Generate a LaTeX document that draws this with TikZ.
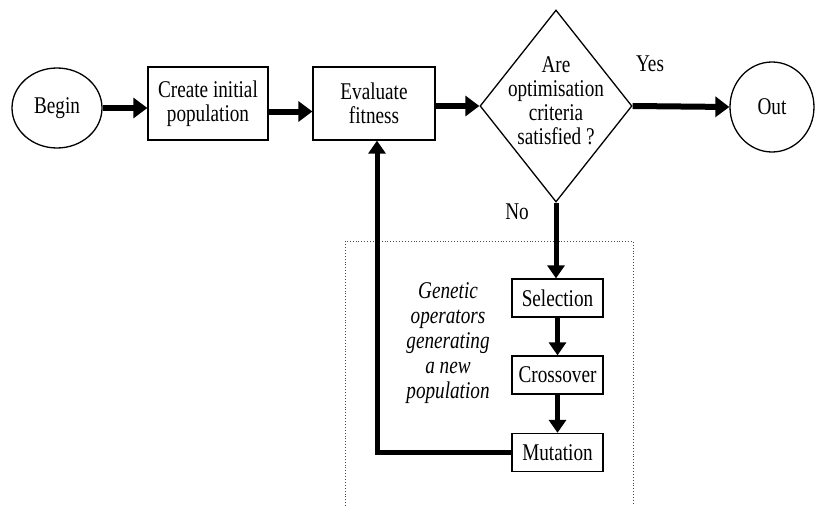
\documentclass[tikz,border=0pt]{standalone}
\usepackage{fontspec}
\setmainfont[FakeStretch=0.8]{Liberation Serif}
\usetikzlibrary{shapes.geometric,arrows.meta}
\begin{document}
\begin{tikzpicture}[x=1pt,y=-1pt,
  every node/.style={font=\fontsize{24}{24}\selectfont, align=center, inner sep=0pt},
  box/.style={draw, line width=1.3pt, rectangle},
  rnd/.style={draw, ellipse, line width=1.3pt},
  big/.style={line width=6pt, -{Triangle[length=14pt,width=20pt]}},
  small/.style={line width=5pt, line join=miter, -{Triangle[length=13pt,width=17pt]}},
  frame/.style={dotted, line width=0.9pt, black!70}]
\useasboundingbox (0,0) rectangle (815,506);
\node[rnd, minimum width=90pt, minimum height=80pt] (begin) at (57,108) {Begin};
\node[box, minimum width=120pt, minimum height=73pt] (create) at (208,103.5) {Create initial\\population};
\node[box, minimum width=122pt, minimum height=73pt] (eval) at (374,103.5) {Evaluate\\fitness};
\node[draw, diamond, line width=1.3pt, minimum width=152pt, minimum height=192pt] (dec) at (556,106) {};
\node (dectext) at (556,101) {Are\\optimisation\\criteria\\satisfied ?};
\node[rnd, minimum width=84pt, minimum height=90pt] (out) at (772,107) {Out};
\node (yes) at (650,64) {Yes};
\node (no) at (517,212) {No};
\node[box, minimum width=91pt, minimum height=38pt] (sel) at (557.5,298) {Selection};
\node[box, minimum width=91pt, minimum height=38pt] (cross) at (557.5,375) {Crossover};
\node[box, minimum width=91pt, minimum height=38pt] (mut) at (557.5,452.5) {Mutation};
\node[font=\fontsize{24}{25}\selectfont\itshape] (gen) at (448,343) {Genetic\\operators\\generating\\a new\\population};
\coordinate (f1) at (345,506);
\coordinate (f2) at (345,241);
\coordinate (f3) at (633,241);
\coordinate (f4) at (633,506);
\draw[frame] (f1) -- (f2) -- (f3) -- (f4);
\draw[big] (begin.east) -- (begin.east -| create.west);
\draw[big] ([yshift=-8pt]create.east) -- ([yshift=-8pt]eval.west);
\draw[big] (eval.east |- dec.west) -- (dec.west);
\draw[big] (dec.east) -- (out.west);
\draw[small] (dec.south) -- (dec.south |- sel.north);
\draw[small] (sel) -- (cross);
\draw[small] (cross) -- (mut);
\draw[small] (mut.west) -| ([xshift=3pt]eval.south);
\end{tikzpicture}
\end{document}
